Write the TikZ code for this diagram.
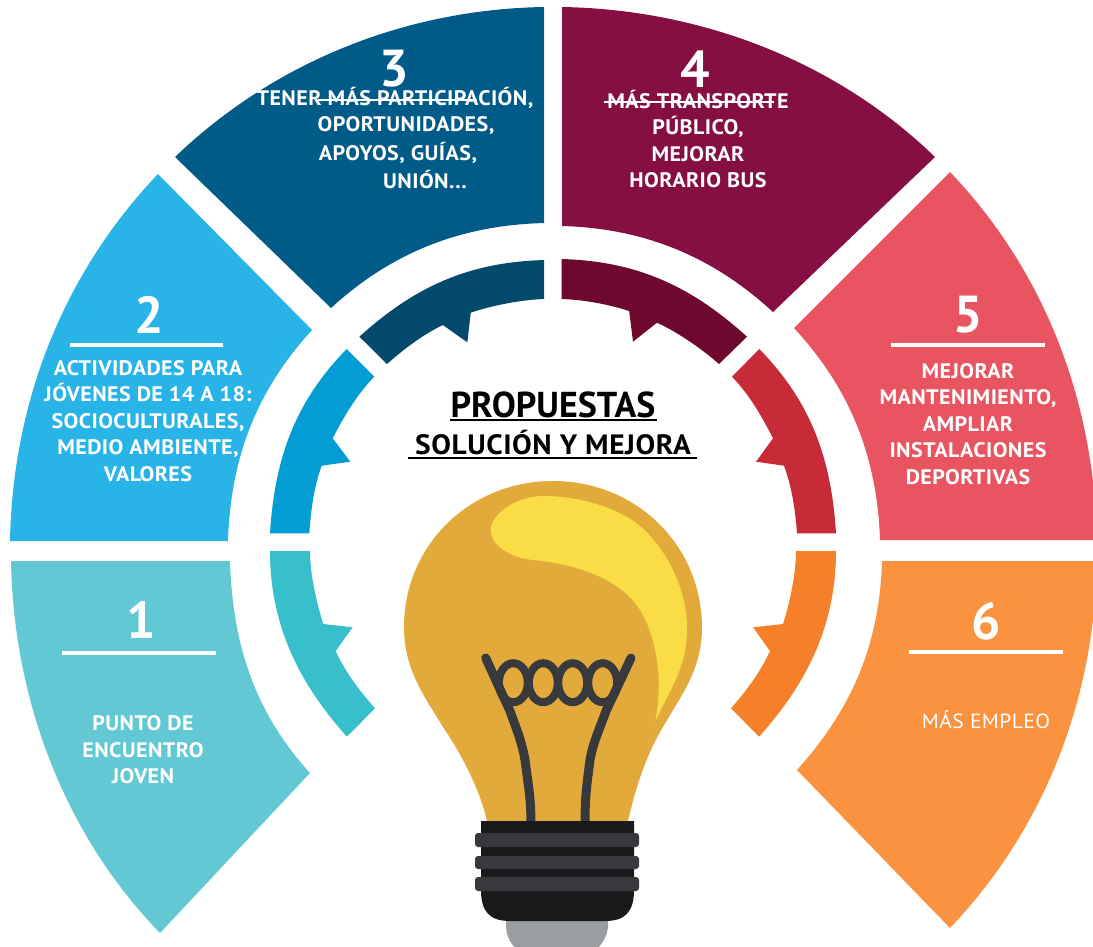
\documentclass[tikz,border=0pt]{standalone}
\usepackage{fontspec}
\setmainfont{PT Sans}
\newfontfamily\widefont{PT Sans}[FakeStretch=1.05,LetterSpace=2]
\usetikzlibrary{calc}
\definecolor{cA}{HTML}{62C8D3}\definecolor{cAi}{HTML}{37C0CC}
\definecolor{cB}{HTML}{29B4E7}\definecolor{cBi}{HTML}{049DD3}
\definecolor{cC}{HTML}{015B89}\definecolor{cCi}{HTML}{03496B}
\definecolor{cD}{HTML}{850F43}\definecolor{cDi}{HTML}{6F082F}
\definecolor{cE}{HTML}{E95461}\definecolor{cEi}{HTML}{C82B38}
\definecolor{cF}{HTML}{FA9240}\definecolor{cFi}{HTML}{F68029}
\definecolor{bulb}{HTML}{E2AA3B}\definecolor{glow}{HTML}{FADC46}
\definecolor{wire}{HTML}{38393D}\definecolor{capblack}{HTML}{19191B}\definecolor{capgray}{HTML}{9A9EA1}
\newcommand{\ccwarc}[3]{.. controls ($(#1)!#3!-90:(c)$) and ($(#2)!#3!90:(c)$) .. (#2)}
\newcommand{\cwarc}[3]{.. controls ($(#1)!#3!90:(c)$) and ($(#2)!#3!-90:(c)$) .. (#2)}
\newcommand{\ringpart}[5]{\fill[#1] (#2) \ccwarc{#2}{#3}{.253} -- (#4) \cwarc{#4}{#5}{.253} -- cycle;}
\tikzset{
 body/.style={text=white,font=\widefont\bfseries\fontsize{21}{26.6}\selectfont,align=center,inner sep=0pt,anchor=center},
 bigno/.style={text=white,font=\bfseries\fontsize{52}{52}\selectfont,inner sep=0pt},
 rule/.style={white,line width=4pt},
 strike/.style={white,line width=2.6pt},
 filament/.style={wire,line width=9pt,line cap=round,line join=round},
 coil/.style={wire,line width=8pt},
 rib/.style={fill=wire,rounded corners=3pt}
}
\begin{document}
\begin{tikzpicture}[x=1pt,y=-1pt]
\useasboundingbox (0,0) rectangle (1093,946);
\clip (0,0) rectangle (1093,946);
\coordinate (c) at (553,551);
% outer ring
\ringpart{cA}{11,561}{160,933}{310,773}{230,561}
\ringpart{cB}{158,174}{10,541}{228,541}{312,330}
\ringpart{cC}{544,7}{175,157}{331,308}{544,223}
\ringpart{cD}{935,157}{562,7}{562,226}{773,312}
\ringpart{cE}{1097,540}{950,172}{794,328}{880,540}
\ringpart{cF}{950,928}{1097,561}{882,561}{797,770}
% inner ring
\fill[cBi] (346.7,349) \ccwarc{346.7,349}{270,533.3}{.26} -- (309.3,533.3) \cwarc{309.3,533.3}{321.7,465.7}{.093} -- (350.3,461.7) -- (332.7,438.3) \cwarc{332.7,438.3}{374.3,376.7}{.099} -- cycle;
\fill[cAi] (270,551) \ccwarc{270,551}{347,736.7}{.26} -- (375,708.3) \cwarc{375,708.3}{335.7,651}{.099} -- (352.7,627.3) -- (323.3,624) \cwarc{323.3,624}{310,551}{.093} -- cycle;
\fill[cCi] (544,260) \ccwarc{544,260}{359.4,336.7}{.26} -- (387,364) \cwarc{387,364}{442.8,325}{.09} -- (467.3,342.3) -- (470.8,312.7) \cwarc{470.8,312.7}{544,299}{.09} -- cycle;
\fill[cDi] (747,336.7) \ccwarc{747,336.7}{561.5,259}{.26} -- (561.5,299) \cwarc{561.5,299}{629.2,311}{.09} -- (633,341.7) -- (657,322.7) \cwarc{657,322.7}{719,364}{.09} -- cycle;
\fill[cEi] (836,533.3) \ccwarc{836,533.3}{759.3,349}{.26} -- (732,376.7) \cwarc{732,376.7}{773,438.3}{.099} -- (756,461.7) -- (784,465.7) \cwarc{784,465.7}{797,533.3}{.093} -- cycle;
\fill[cFi] (759,736.7) \ccwarc{759,736.7}{836,551}{.26} -- (796,551) \cwarc{796,551}{783,624}{.093} -- (753,627.3) -- (770,651) \cwarc{770,651}{731,708.3}{.099} -- cycle;
% bulb
\fill[capgray] (506,915) -- (608,915) -- (608,925) .. controls (608,935) and (603,943) .. (596,950) -- (517,950) .. controls (510,943) and (506,935) .. (506,925) -- cycle;
\fill[bulb] (487,821) .. controls (480,790) and (462,755) .. (443,727)
 .. controls (425,697) and (404,670) .. (404,627)
 .. controls (404,545) and (470,481) .. (553,481)
 .. controls (636,481) and (702,545) .. (702,628)
 .. controls (702,670) and (680,697) .. (663,727)
 .. controls (646,755) and (635,790) .. (628,821) -- cycle;
\fill[glow] (655,722) .. controls (675,680) and (687,665) .. (687,627)
 .. controls (687,585) and (660,535) .. (627,517)
 .. controls (600,502) and (570,496) .. (543,496)
 .. controls (515,496) and (491,515) .. (490.5,530)
 .. controls (491,545) and (510,558) .. (533,560)
 .. controls (575,564) and (620,578) .. (640,610)
 .. controls (656,636) and (664,680) .. (655,722) -- cycle;
\foreach \cx in {513.3,543.3,572.7,602.7} \draw[coil] (\cx,682.7) ellipse [x radius=14.5,y radius=19.5];
\draw[filament] (485.7,658) -- (510,711) .. controls (518,733) and (522,743) .. (525,760) .. controls (529,790) and (531,800) .. (531,825);
\draw[filament] (631,658) -- (606,711) .. controls (598,733) and (593,743) .. (590,760) .. controls (586,790) and (585,800) .. (585,825);
\fill[capblack] (481,821) -- (634,821) -- (634,890) .. controls (634,912) and (625,921) .. (605,921) -- (510,921) .. controls (490,921) and (481,912) .. (481,890) -- cycle;
\fill[rib] (475,833) rectangle (639,847);
\fill[rib] (475,856) rectangle (639,869);
\fill[rib] (475,877) rectangle (639,891);
% numbers and rules
\node[bigno] (n1) at (141,620) {1};
\node[bigno] (n2) at (149,315) {2};
\node[bigno] (n3) at (394,69) {3};
\node[bigno] (n4) at (695,69) {4};
\node[bigno] (n5) at (968,315) {5};
\node[bigno] (n6) at (986,621) {6};
\draw[rule] (62,653) -- (216,653);
\draw[rule] (70,345) -- (223,345);
\draw[rule] (891,345) -- (1045,345);
\draw[rule] (909,652) -- (1063,652);
\draw[strike] (318,100) -- (477,100);
\draw[strike] (604,102) -- (774,102);
% texts
\node[body] (t1) at (143,750) {PUNTO DE\\ENCUENTRO\\JOVEN};
\node[body] (t2) at (148,421) {ACTIVIDADES PARA\\JÓVENES DE 14 A 18:\\SOCIOCULTURALES,\\MEDIO AMBIENTE,\\VALORES};
\node[body] (t3a) at (395,98) {TENER MÁS PARTICIPACIÓN,};
\node[body] (t3b) at (406,126) {OPORTUNIDADES,};
\node[body] (t3c) at (398,153) {APOYOS, GUÍAS,};
\node[body] (t3d) at (425,180) {UNIÓN...};
\node[body] (t4) at (698,139) {MÁS TRANSPORTE\\PÚBLICO,\\MEJORAR\\HORARIO BUS};
\node[body] (t5) at (968,424) {MEJORAR\\MANTENIMIENTO,\\AMPLIAR\\INSTALACIONES\\DEPORTIVAS};
\node[body,font=\widefont\fontsize{20.5}{26}\selectfont] (t6) at (986,720) {MÁS EMPLEO};
\node[inner sep=0pt,text=black,font=\bfseries\fontsize{36}{36}\selectfont] (title) at (553,405) {PROPUESTAS};
\node[inner sep=0pt,text=black,font=\widefont\bfseries\fontsize{28}{28}\selectfont] (subtitle) at (553,443) {SOLUCIÓN Y MEJORA};
\draw[black,line width=2pt] (450,420) -- (657,420);
\draw[black,line width=2pt] (408,458) -- (697,458);
\end{tikzpicture}
\end{document}
